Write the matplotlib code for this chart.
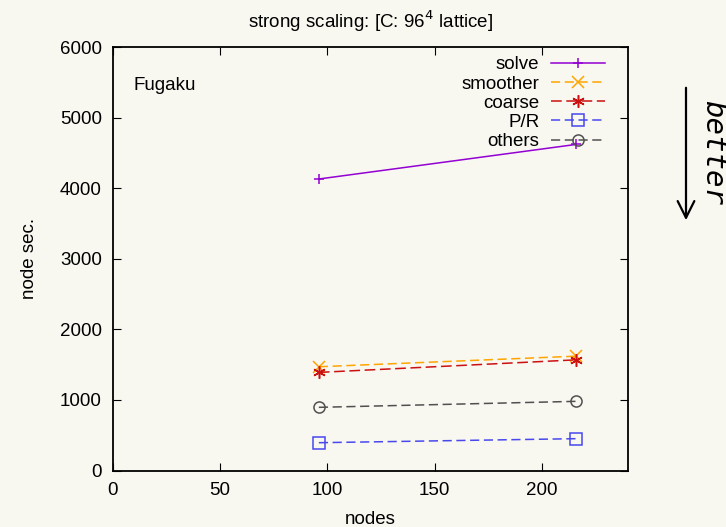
import matplotlib
matplotlib.use('Agg')
import matplotlib.pyplot as plt
from matplotlib.patches import FancyArrowPatch

# Values
nodes = [96, 216]
solve = [4130, 4620]
smoother = [1470, 1620]
coarse = [1390, 1568]
pr = [394, 451]
others = [895, 980]

# (label, values, color, linestyle, marker, marker size)
series = [
    ('solve', solve, '#9400d3', '-', '+', 7),
    ('smoother', smoother, '#ffa500', (0, (6, 3)), 'x', 8),
    ('coarse', coarse, '#cc1111', (0, (7, 3)), (6, 2, 0), 9),
    ('P/R', pr, '#4848ee', (0, (6, 3)), 's', 8),
    ('others', others, '#505050', (0, (6, 3)), 'o', 8),
]

bg = '#f8f7f0'
fs = 13.5
plt.rcParams['font.family'] = ['Liberation Sans', 'DejaVu Sans']

fig = plt.figure(figsize=(7.26, 5.27), dpi=100, facecolor=bg)
ax = fig.add_axes([0.1556, 0.1072, 0.709, 0.8036], facecolor=bg)

for label, vals, color, ls, mk, ms in series:
    hollow = mk in ('s', 'o')
    ax.plot(nodes, vals, color=color, linestyle=ls, linewidth=1.1,
            marker=mk, markersize=ms,
            markerfacecolor='none' if hollow else color,
            markeredgecolor=color, markeredgewidth=1.1, label=label)

ax.set_xlim(0, 240)
ax.set_ylim(0, 6000)
ax.set_xticks([0, 50, 100, 150, 200])
ax.set_yticks(range(0, 6001, 1000))
ax.tick_params(direction='in', top=True, right=True, length=6,
               labelsize=fs, pad=8)
for s in ax.spines.values():
    s.set_linewidth(1.3)

ax.set_title('strong scaling: [C: 96$^4$ lattice]', fontsize=fs, pad=14)
ax.set_xlabel('nodes', fontsize=fs, labelpad=9)
ax.set_ylabel('node sec.', fontsize=fs, labelpad=16)
ax.text(9.4, 5460, 'Fugaku', fontsize=fs, va='center')

leg = ax.legend(loc='upper right', bbox_to_anchor=(0.955, 0.978),
                frameon=False, fontsize=fs, markerfirst=False,
                handlelength=2.83, handletextpad=0.64, labelspacing=0.11,
                borderaxespad=0, borderpad=0)
for t in leg.get_texts():
    t.set_ha('right')
leg._legend_box.align = 'right'

# "better" arrow on the right
fig.add_artist(FancyArrowPatch(
    (686 / 726, 1 - 85 / 527), (686 / 726, 1 - 223 / 527),
    transform=fig.transFigure, arrowstyle='->', mutation_scale=30,
    color='black', linewidth=1.6))
fig.text(699 / 726, 1 - 152 / 527, 'better', rotation=-90, fontsize=21,
         style='italic', family='DejaVu Sans Mono', ha='left', va='center')

fig.savefig('out.png', dpi=100, facecolor=bg)
